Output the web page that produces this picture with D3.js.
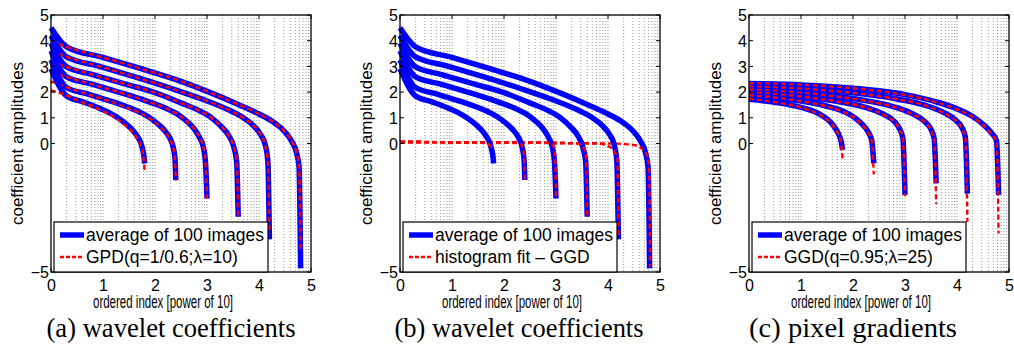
<!DOCTYPE html>
<html>
<head>
<meta charset="utf-8">
<script src="https://cdn.jsdelivr.net/npm/d3@7"></script>
<style>
  body { margin: 0; background: #fff; }
  svg { display: block; }
</style>
</head>
<body>
<svg id="chart" width="1014" height="350"></svg>
<script>
// x = ordered index as a power of 10, y = coefficient amplitude
const xTicks = [0, 1, 2, 3, 4, 5];
const yTicks = [5, 4, 3, 2, 1, 0, -5];
const decades = [0, 1, 2, 3, 4];
const gridSteps = [2, 3, 4, 5, 6, 7, 8, 9, 10];

// six subbands, from the smallest (ends at 1.8) to the largest (ends at 4.8)
const waveletAvg = [
  [[0, 2.9], [0.3, 1.85], [0.6, 1.63], [0.9, 1.4], [1.1, 1.22], [1.3, 0.98], [1.45, 0.75], [1.58, 0.5], [1.67, 0.25], [1.73, 0.0], [1.77, -0.3], [1.79, -0.55], [1.8, -0.78]],
  [[0, 3.25], [0.3, 2.18], [0.7, 1.93], [1.1, 1.68], [1.5, 1.4], [1.75, 1.18], [1.95, 0.93], [2.1, 0.68], [2.22, 0.42], [2.3, 0.15], [2.35, -0.15], [2.385, -0.6], [2.4, -1.42]],
  [[0, 3.6], [0.3, 2.59], [0.8, 2.3], [1.3, 2.0], [1.8, 1.68], [2.2, 1.38], [2.45, 1.12], [2.62, 0.85], [2.76, 0.55], [2.86, 0.22], [2.93, -0.15], [2.97, -0.7], [3.0, -2.14]],
  [[0, 3.9], [0.3, 2.98], [0.8, 2.68], [1.4, 2.33], [2.0, 1.98], [2.5, 1.58], [2.85, 1.28], [3.1, 0.98], [3.28, 0.65], [3.42, 0.3], [3.51, -0.1], [3.57, -0.7], [3.6, -2.85]],
  [[0, 4.2], [0.3, 3.37], [0.9, 3.02], [1.6, 2.6], [2.3, 2.15], [2.9, 1.73], [3.4, 1.32], [3.7, 1.0], [3.9, 0.68], [4.03, 0.35], [4.12, -0.05], [4.17, -0.7], [4.2, -3.73]],
  [[0, 4.5], [0.3, 3.76], [1.0, 3.35], [1.7, 2.93], [2.5, 2.42], [3.1, 1.95], [3.6, 1.52], [4.0, 1.15], [4.3, 0.8], [4.5, 0.45], [4.63, 0.08], [4.72, -0.35], [4.77, -0.9], [4.8, -4.86]]
];

const gpdFit = [
  [[0, 2.07], [0.3, 1.87], [0.6, 1.6], [0.9, 1.36], [1.1, 1.16], [1.3, 0.91], [1.45, 0.67], [1.58, 0.41], [1.67, 0.16], [1.73, -0.1], [1.77, -0.42], [1.8, -1.05]],
  [[0, 2.42], [0.3, 2.19], [0.7, 1.92], [1.1, 1.66], [1.5, 1.37], [1.75, 1.15], [1.95, 0.9], [2.1, 0.65], [2.22, 0.39], [2.3, 0.12], [2.35, -0.18], [2.385, -0.65], [2.4, -1.45]],
  [[0, 2.8], [0.3, 2.59], [0.8, 2.3], [1.3, 2.0], [1.8, 1.68], [2.2, 1.38], [2.45, 1.12], [2.62, 0.85], [2.76, 0.55], [2.86, 0.22], [2.93, -0.15], [2.97, -0.7], [3.0, -2.14]],
  [[0, 3.2], [0.3, 2.98], [0.8, 2.68], [1.4, 2.33], [2.0, 1.98], [2.5, 1.58], [2.85, 1.28], [3.1, 0.98], [3.28, 0.65], [3.42, 0.3], [3.51, -0.1], [3.57, -0.7], [3.6, -2.8]],
  [[0, 3.6], [0.3, 3.37], [0.9, 3.02], [1.6, 2.6], [2.3, 2.15], [2.9, 1.73], [3.4, 1.32], [3.7, 1.0], [3.9, 0.68], [4.03, 0.35], [4.12, -0.05], [4.17, -0.7], [4.2, -3.5]],
  [[0, 4.0], [0.3, 3.76], [1.0, 3.35], [1.7, 2.93], [2.5, 2.42], [3.1, 1.95], [3.6, 1.52], [4.0, 1.15], [4.3, 0.8], [4.5, 0.45], [4.63, 0.08], [4.72, -0.35], [4.77, -0.9], [4.8, -4.1]]
];

const ggdHistFit = [
  [[0, 0.06], [1.0, 0.05], [1.6, 0.03], [1.72, -0.05], [1.77, -0.2]],
  [[0, 0.06], [1.0, 0.05], [2.0, 0.04], [2.25, 0.02], [2.34, -0.06], [2.38, -0.3], [2.4, -1.4]],
  [[0, 0.06], [1.0, 0.05], [2.0, 0.04], [2.85, 0.02], [2.95, -0.08], [2.98, -0.4], [3.0, -2.1]],
  [[0, 0.06], [1.0, 0.05], [2.0, 0.04], [3.0, 0.02], [3.4, 0.0], [3.52, -0.15], [3.57, -0.4], [3.6, -2.8]],
  [[0, 0.06], [1.0, 0.05], [2.0, 0.04], [3.0, 0.02], [3.8, 0.0], [4.0, -0.1], [4.12, -0.3], [4.18, -0.6], [4.2, -3.7]],
  [[0, 0.06], [1.0, 0.05], [2.0, 0.04], [3.0, 0.02], [4.0, 0.0], [4.3, -0.02], [4.5, -0.06], [4.65, -0.2], [4.75, -0.45], [4.79, -1.0], [4.81, -4.8]]
];

const gradientAvg = [
  [[0, 1.72], [0.4, 1.63], [0.8, 1.5], [1.1, 1.35], [1.35, 1.15], [1.52, 0.92], [1.64, 0.65], [1.72, 0.38], [1.77, 0.1], [1.8, -0.25]],
  [[0, 1.85], [0.5, 1.78], [1.0, 1.65], [1.5, 1.45], [1.85, 1.22], [2.05, 0.98], [2.2, 0.7], [2.3, 0.42], [2.36, 0.12], [2.4, -0.77]],
  [[0, 1.97], [0.6, 1.9], [1.2, 1.78], [1.8, 1.6], [2.3, 1.37], [2.6, 1.12], [2.8, 0.85], [2.9, 0.55], [2.96, 0.2], [3.0, -2.0]],
  [[0, 2.08], [0.8, 2.0], [1.6, 1.85], [2.3, 1.65], [2.8, 1.42], [3.15, 1.15], [3.38, 0.85], [3.5, 0.55], [3.56, 0.2], [3.6, -1.55]],
  [[0, 2.2], [1.0, 2.13], [2.0, 1.97], [2.8, 1.75], [3.4, 1.48], [3.75, 1.2], [3.98, 0.9], [4.1, 0.6], [4.16, 0.25], [4.2, -1.95]],
  [[0, 2.33], [1.0, 2.28], [2.0, 2.15], [3.0, 1.9], [3.6, 1.62], [4.0, 1.35], [4.3, 1.05], [4.5, 0.75], [4.66, 0.42], [4.76, 0.1], [4.8, -2.0]]
];

const gradientGgdFit = [
  [[0, 1.74], [0.4, 1.64], [0.8, 1.5], [1.1, 1.34], [1.35, 1.13], [1.52, 0.9], [1.64, 0.62], [1.72, 0.34], [1.77, 0.05], [1.8, -0.6]],
  [[0, 1.87], [0.5, 1.79], [1.0, 1.65], [1.5, 1.44], [1.85, 1.2], [2.05, 0.96], [2.2, 0.68], [2.3, 0.4], [2.36, 0.08], [2.4, -1.2]],
  [[0, 1.99], [0.6, 1.91], [1.2, 1.78], [1.8, 1.6], [2.3, 1.36], [2.6, 1.1], [2.8, 0.83], [2.9, 0.53], [2.96, 0.17], [3.0, -2.05]],
  [[0, 2.1], [0.8, 2.01], [1.6, 1.85], [2.3, 1.64], [2.8, 1.41], [3.15, 1.13], [3.38, 0.83], [3.5, 0.52], [3.56, 0.15], [3.6, -2.35]],
  [[0, 2.22], [1.0, 2.14], [2.0, 1.97], [2.8, 1.74], [3.4, 1.47], [3.75, 1.18], [3.98, 0.88], [4.1, 0.57], [4.16, 0.2], [4.2, -3.05]],
  [[0, 2.35], [1.0, 2.29], [2.0, 2.15], [3.0, 1.89], [3.6, 1.61], [4.0, 1.33], [4.3, 1.03], [4.5, 0.72], [4.66, 0.38], [4.76, 0.05], [4.8, -3.5]]
];

const legendA = ['average of 100 images', 'GPD(q=1/0.6;\u03bb=10)'];
const legendB = ['average of 100 images', 'histogram fit \u2013 GGD'];
const legendC = ['average of 100 images', 'GGD(q=0.95;\u03bb=25)'];
const captions = ['(a) wavelet coefficients', '(b) wavelet coefficients', '(c) pixel gradients'];
const xLabel = 'ordered index [power of 10]';
const yLabel = 'coefficient amplitudes';

const svg = d3.select('#chart');
const sans = 'Liberation Sans, Arial, Helvetica, sans-serif';
const serif = 'Liberation Serif, Times New Roman, serif';

const panels = [
  { left: 51, avg: waveletAvg, fit: gpdFit, legend: legendA, caption: captions[0], capX: 171, capW: 249 },
  { left: 400, avg: waveletAvg, fit: ggdHistFit, legend: legendB, caption: captions[1], capX: 519, capW: 249 },
  { left: 749, avg: gradientAvg, fit: gradientGgdFit, legend: legendC, caption: captions[2], capX: 853, capW: 208 }
];

const plotW = 260;
const plotTop = 15;
const plotBottom = 272;

const gridPos = [];
decades.forEach(d => gridSteps.forEach(s => {
  const v = d + Math.log10(s);
  if (v < 4.999) gridPos.push(v);
}));

panels.forEach(p => {
  const g = svg.append('g');
  const x = d3.scaleLinear().domain([0, 5]).range([p.left, p.left + plotW]);
  const y = d3.scaleLinear().domain([-5, 5]).range([plotBottom, plotTop]);

  // dotted log grid
  g.append('g').selectAll('line').data(gridPos).join('line')
    .attr('x1', d => x(d)).attr('x2', d => x(d))
    .attr('y1', plotTop).attr('y2', plotBottom)
    .attr('stroke', '#999')
    .attr('stroke-width', 1)
    .attr('stroke-dasharray', '1,2');

  // curves, largest subband first so the smaller ones sit on top
  const line = d3.line()
    .x(d => x(d[0]))
    .y(d => y(d[1]))
    .curve(d3.curveMonotoneX);

  const order = d3.range(p.avg.length).reverse();
  order.forEach(k => {
    g.append('path')
      .attr('d', line(p.avg[k]))
      .attr('fill', 'none')
      .attr('stroke', '#0000ff')
      .attr('stroke-width', 5.5)
      .attr('stroke-linejoin', 'round');
    g.append('path')
      .attr('d', line(p.fit[k]))
      .attr('fill', 'none')
      .attr('stroke', '#ff0000')
      .attr('stroke-width', 2.4)
      .attr('stroke-dasharray', '5,3');
  });

  // axes
  const xAxis = d3.axisBottom(x).tickValues(xTicks).tickSize(0).tickPadding(0).tickFormat(d3.format('d'));
  const yAxis = d3.axisLeft(y).tickValues(yTicks).tickSize(0).tickPadding(0)
    .tickFormat(d => d < 0 ? '\u2212' + Math.abs(d) : d);

  const gx = g.append('g').attr('transform', `translate(0,${plotBottom})`).call(xAxis);
  gx.select('.domain').remove();
  gx.selectAll('text').attr('dy', null).attr('y', 19)
    .style('font-family', sans).style('font-size', '16px').attr('fill', '#000');

  const gy = g.append('g').attr('transform', `translate(${p.left},0)`).call(yAxis);
  gy.select('.domain').remove();
  gy.selectAll('text').attr('x', -2).attr('dy', '0.36em')
    .style('font-family', sans).style('font-size', '16px').attr('fill', '#000');

  // inner tick marks on all four sides
  const tk = g.append('g').attr('stroke', '#000').attr('stroke-width', 1);
  xTicks.forEach(t => {
    tk.append('line').attr('x1', x(t)).attr('x2', x(t)).attr('y1', plotBottom).attr('y2', plotBottom - 4);
    tk.append('line').attr('x1', x(t)).attr('x2', x(t)).attr('y1', plotTop).attr('y2', plotTop + 4);
  });
  yTicks.forEach(t => {
    tk.append('line').attr('x1', p.left).attr('x2', p.left + 4).attr('y1', y(t)).attr('y2', y(t));
    tk.append('line').attr('x1', p.left + plotW).attr('x2', p.left + plotW - 4).attr('y1', y(t)).attr('y2', y(t));
  });

  // frame
  g.append('rect')
    .attr('x', p.left).attr('y', plotTop)
    .attr('width', plotW).attr('height', plotBottom - plotTop)
    .attr('fill', 'none').attr('stroke', '#000').attr('stroke-width', 1.3);

  // legend
  const lg = g.append('g').attr('transform', `translate(${p.left + 3},${plotBottom - 50})`);
  lg.append('rect').attr('width', 214).attr('height', 50)
    .attr('fill', '#fff').attr('stroke', '#000').attr('stroke-width', 1.2);
  lg.append('line').attr('x1', 6).attr('x2', 30).attr('y1', 13).attr('y2', 13)
    .attr('stroke', '#0000ff').attr('stroke-width', 5.5);
  lg.append('line').attr('x1', 6).attr('x2', 30).attr('y1', 35).attr('y2', 35)
    .attr('stroke', '#ff0000').attr('stroke-width', 2.4).attr('stroke-dasharray', '4,2');
  lg.selectAll('text').data(p.legend).join('text')
    .attr('x', 32).attr('y', (d, i) => 19 + i * 22)
    .style('font-family', sans).style('font-size', '17.5px')
    .text(d => d);

  // labels
  g.append('text')
    .attr('transform', `translate(${p.left - 34},${(plotTop + plotBottom) / 2}) rotate(-90)`)
    .attr('text-anchor', 'middle').attr('dy', '0.35em')
    .style('font-family', sans).style('font-size', '17px')
    .text(yLabel);

  g.append('text')
    .attr('x', p.left + 112).attr('y', 308)
    .attr('text-anchor', 'middle')
    .attr('textLength', 140).attr('lengthAdjust', 'spacingAndGlyphs')
    .style('font-family', sans).style('font-size', '18px')
    .text(xLabel);

  g.append('text')
    .attr('x', p.capX).attr('y', 337)
    .attr('text-anchor', 'middle')
    .attr('textLength', p.capW).attr('lengthAdjust', 'spacingAndGlyphs')
    .style('font-family', serif).style('font-size', '28px')
    .text(p.caption);
});
</script>
</body>
</html>
